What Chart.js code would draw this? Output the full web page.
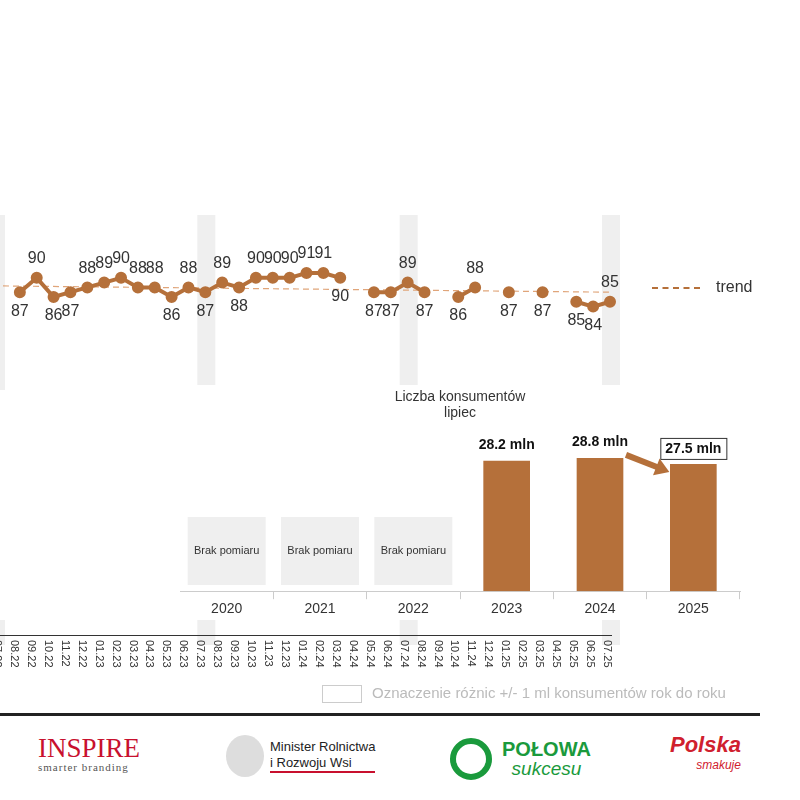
<!DOCTYPE html>
<html>
<head>
<meta charset="utf-8">
<script src="https://cdn.jsdelivr.net/npm/chart.js@4"></script>
<style>
  body { margin: 0; width: 800px; height: 800px; background: #fff; position: relative; overflow: hidden; font-family: "Liberation Sans", Arial, sans-serif; }
  #lineWrap { position: absolute; left: -5px; top: 200px; width: 805px; height: 500px; }
  #barWrap { position: absolute; left: 180px; top: 385px; width: 565px; height: 235px; background: #fff; }
  .trend { position: absolute; left: 652px; top: 278px; color: #333; font-size: 16px; }
  .trend span { display: inline-block; width: 48px; border-top: 2px dashed #B5703A; vertical-align: middle; margin-right: 16px; }
  .legend { position: absolute; left: 322px; top: 684px; color: #bbb; font-size: 15px; }
  .legend span { display: inline-block; width: 38px; height: 16px; border: 1px solid #ccc; vertical-align: middle; margin-right: 10px; }
  .rule { position: absolute; left: 0; top: 713px; width: 760px; height: 3px; background: #222; }
  .logo { position: absolute; top: 735px; }
</style>
</head>
<body>
<div id="lineWrap"><canvas id="lineChart"></canvas></div>
<div id="barWrap"><canvas id="barChart"></canvas></div>
<div class="trend"><span></span>trend</div>
<div class="legend"><span></span>Oznaczenie różnic +/- 1 ml konsumentów rok do roku</div>
<div class="rule"></div>
<div class="logo" style="left:38px;font-family:'Liberation Serif',serif;color:#c8102e;font-size:27px;line-height:26px;">INSPIRE<div style="font-size:11px;color:#555;line-height:12px;letter-spacing:1px">smarter branding</div></div>
<div class="logo" style="left:226px;display:flex;align-items:center;">
  <div style="width:38px;height:42px;border-radius:50%;background:#ddd;margin-right:6px"></div>
  <div style="font-size:13px;color:#222;line-height:16px;border-bottom:2px solid #c8102e">Minister Rolnictwa<br>i Rozwoju Wsi</div>
</div>
<div class="logo" style="left:450px;top:738px;display:flex;align-items:center;">
  <div style="width:42px;height:42px;border-radius:50%;border:6px solid #1a9a3c;box-sizing:border-box;margin-right:10px"></div>
  <div style="color:#1a9a3c;font-weight:bold;font-size:20px;line-height:20px;">POŁOWA<div style="font-weight:normal;font-style:italic;font-size:19px;text-align:center">sukcesu</div></div>
</div>
<div class="logo" style="left:670px;color:#d0202e;font-weight:bold;font-style:italic;font-size:22px;line-height:20px;">Polska<div style="font-size:12px;font-weight:normal;text-align:right">smakuje</div></div>

<script>
// monthly measurement labels
const months = ['07.22','08.22','09.22','10.22','11.22','12.22','01.23','02.23','03.23','04.23','05.23','06.23',
  '07.23','08.23','09.23','10.23','11.23','12.23','01.24','02.24','03.24','04.24','05.24','06.24',
  '07.24','08.24','09.24','10.24','11.24','12.24','01.25','02.25','03.25','04.25','05.25','06.25','07.25'];
const scores = [null,87,90,86,87,88,89,90,88,88,86,88,87,89,88,90,90,90,91,91,90,null,87,87,89,87,null,86,88,null,87,null,87,null,85,84,85];
const trendEnds = [88.3, 87.0];
const julyIdx = [0, 12, 24, 36];

// yearly consumers (July), mln
const years = ['2020','2021','2022','2023','2024','2025'];
const consumers = [null, null, null, 28.2, 28.8, 27.5];

const brown = '#B5703A';
const trendData = months.map((m, i) => i === 0 ? trendEnds[0] : (i === months.length - 1 ? trendEnds[1] : null));

const linePlugin = {
    id: 'lineExtras',
    beforeDatasetsDraw(chart) {
        const ctx = chart.ctx, x = chart.scales.x;
        ctx.save();
        ctx.fillStyle = '#efefef';
        julyIdx.forEach(i => {
            const px = i === 0 ? 1 : x.getPixelForValue(i) + 1;
            ctx.fillRect(px - 9, 15, 18, 175);
            ctx.fillRect(px - 9, 420, 18, 25);
        });
        ctx.restore();
    },
    afterDatasetsDraw(chart) {
        const ctx = chart.ctx;
        const meta = chart.getDatasetMeta(0);
        ctx.save();
        ctx.font = '16px "Liberation Sans", Arial';
        ctx.fillStyle = '#333';
        ctx.textAlign = 'center';
        ctx.textBaseline = 'middle';
        scores.forEach((v, i) => {
            if (v == null) return;
            const p = meta.data[i];
            const prev = scores[i - 1];
            const next = scores[i + 1];
            // above when the point is at least as high as a neighbour, else below
            const up = (v >= 88 && (prev == null || v >= prev || (next != null && v >= next))) || (i === scores.length - 1);
            ctx.fillText(v, p.x, up ? p.y - 19 : p.y + 19);
        });
        // axis line
        ctx.strokeStyle = '#333';
        ctx.lineWidth = 1;
        ctx.beginPath();
        ctx.moveTo(5, 435.5);
        ctx.lineTo(617, 435.5);
        ctx.stroke();
        // rotated month labels, spaced along the axis line
        ctx.font = '11px "Liberation Sans", Arial';
        ctx.textAlign = 'left';
        const step = 610 / (months.length - 1);
        months.forEach((m, i) => {
            const px = 6 + step * i;
            ctx.save();
            ctx.translate(px - 4, 440);
            ctx.rotate(Math.PI / 2);
            ctx.fillText(m, 0, 0);
            ctx.restore();
        });
        ctx.restore();
    }
};

new Chart(document.getElementById('lineChart'), {
    type: 'line',
    data: {
        labels: months,
        datasets: [{
            data: scores,
            borderColor: brown,
            backgroundColor: brown,
            borderWidth: 4,
            pointRadius: 4,
            spanGaps: false,
            tension: 0
        }, {
            data: trendData,
            borderColor: '#E0A57A',
            borderWidth: 1.2,
            borderDash: [6, 4],
            pointRadius: 0,
            spanGaps: true
        }]
    },
    options: {
        responsive: true,
        maintainAspectRatio: false,
        animation: false,
        layout: { padding: { left: 0, right: 190, top: 15, bottom: 310 } },
        plugins: { legend: { display: false }, tooltip: { enabled: false } },
        scales: {
            x: { display: false },
            y: { display: false, min: 66.6, max: 103.1 }
        }
    },
    plugins: [linePlugin]
});

const barPlugin = {
    id: 'barExtras',
    afterDatasetsDraw(chart) {
        const ctx = chart.ctx, x = chart.scales.x;
        const meta = chart.getDatasetMeta(0);
        ctx.save();
        ctx.textAlign = 'center';
        ctx.textBaseline = 'middle';
        consumers.forEach((v, i) => {
            const cx = x.getPixelForValue(i);
            if (v == null) {
                ctx.fillStyle = '#efefef';
                ctx.fillRect(cx - 39, 132, 78, 68);
                ctx.fillStyle = '#333';
                ctx.font = '11px "Liberation Sans", Arial';
                ctx.fillText('Brak pomiaru', cx, 166);
                return;
            }
            const bar = meta.data[i];
            const txt = v.toFixed(1) + ' mln';
            ctx.font = 'bold 14px "Liberation Sans", Arial';
            if (i === consumers.length - 1) {
                const w = ctx.measureText(txt).width + 10;
                ctx.fillStyle = '#fff';
                ctx.fillRect(cx - w / 2, bar.y - 26, w, 21);
                ctx.strokeStyle = '#333';
                ctx.lineWidth = 1;
                ctx.strokeRect(cx - w / 2 + 0.5, bar.y - 25.5, w, 21);
                ctx.fillStyle = '#111';
                ctx.fillText(txt, cx, bar.y - 15);
            } else {
                ctx.fillStyle = '#111';
                ctx.fillText(txt, cx, bar.y - 16);
            }
        });
        // arrow between the last two years
        const x1 = x.getPixelForValue(4) + 26, x2 = x.getPixelForValue(5) - 24;
        const y1 = meta.data[4].y - 3, y2 = meta.data[5].y + 8;
        const ang = Math.atan2(y2 - y1, x2 - x1);
        ctx.strokeStyle = brown;
        ctx.fillStyle = brown;
        ctx.lineWidth = 6;
        ctx.beginPath();
        ctx.moveTo(x1, y1);
        ctx.lineTo(x2 - 10 * Math.cos(ang), y2 - 10 * Math.sin(ang));
        ctx.stroke();
        ctx.beginPath();
        ctx.moveTo(x2, y2);
        ctx.lineTo(x2 - 14 * Math.cos(ang) + 9 * Math.sin(ang), y2 - 14 * Math.sin(ang) - 9 * Math.cos(ang));
        ctx.lineTo(x2 - 14 * Math.cos(ang) - 9 * Math.sin(ang), y2 - 14 * Math.sin(ang) + 9 * Math.cos(ang));
        ctx.closePath();
        ctx.fill();
        ctx.restore();
    }
};

new Chart(document.getElementById('barChart'), {
    type: 'bar',
    data: {
        labels: years,
        datasets: [{
            data: consumers,
            backgroundColor: brown,
            categoryPercentage: 1,
            barPercentage: 0.5
        }]
    },
    options: {
        responsive: true,
        maintainAspectRatio: false,
        animation: false,
        layout: { padding: { left: 0, right: 5, top: 0, bottom: 0 } },
        plugins: {
            legend: { display: false },
            tooltip: { enabled: false },
            title: {
                display: true,
                text: ['Liczba konsumentów', 'lipiec'],
                color: '#333',
                font: { size: 14, weight: 'normal', family: '"Liberation Sans", Arial', lineHeight: 1.15 },
                padding: { top: 4, bottom: 8 }
            }
        },
        scales: {
            x: {
                grid: { offset: true, drawOnChartArea: false, tickLength: 8, color: '#ccc' },
                border: { color: '#ccc' },
                ticks: { color: '#333', font: { size: 14, family: '"Liberation Sans", Arial' }, padding: 2 }
            },
            y: { display: false, min: 0, max: 35 }
        }
    },
    plugins: [barPlugin]
});
</script>
</body>
</html>
